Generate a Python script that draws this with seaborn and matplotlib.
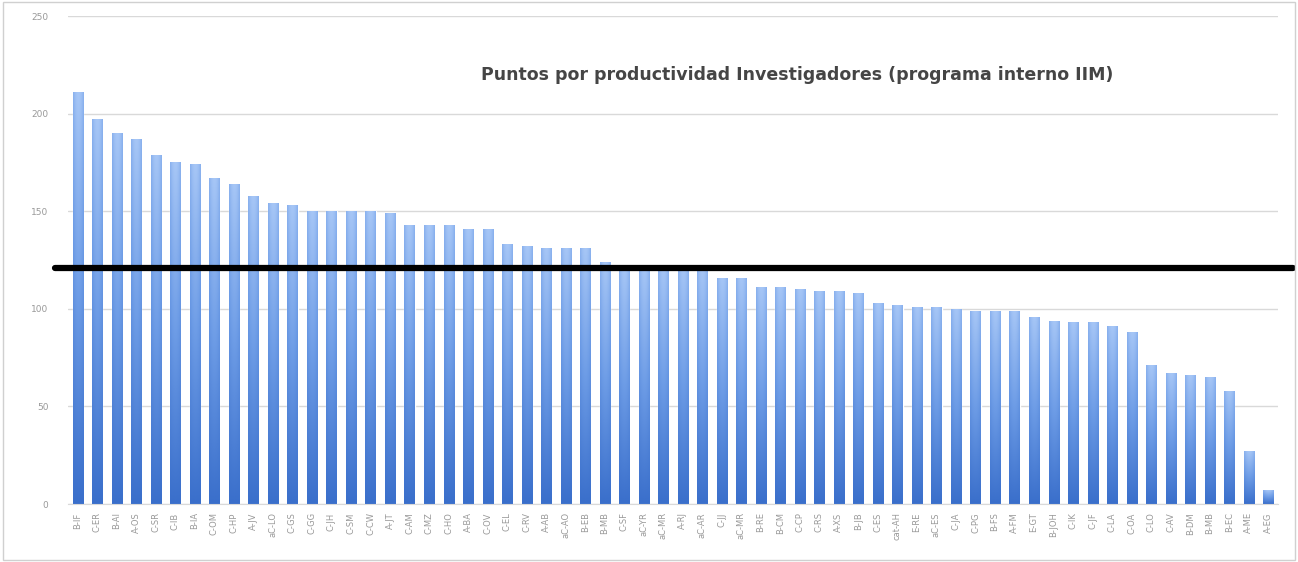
import numpy as np
import pandas as pd
import matplotlib
matplotlib.use('Agg')
import matplotlib.pyplot as plt
from matplotlib.colors import LinearSegmentedColormap
import seaborn as sns

# Data
labels = ['B-IF', 'C-ER', 'B-AI', 'A-OS', 'C-SR', 'C-IB', 'B-IA', 'C-OM', 'C-HP', 'A-JV',
          'aC-LO', 'C-GS', 'C-GG', 'C-JH', 'C-SM', 'C-CW', 'A-JT', 'C-AM', 'C-MZ', 'C-HO',
          'A-BA', 'C-OV', 'C-EL', 'C-RV', 'A-AB', 'aC-AO', 'B-EB', 'B-MB', 'C-SF', 'aC-YR',
          'aC-MR', 'A-RJ', 'aC-AR', 'C-JJ', 'aC-MR', 'B-RE', 'B-CM', 'C-CP', 'C-RS', 'A-XS',
          'B-JB', 'C-ES', 'cat-AH', 'E-RE', 'aC-ES', 'C-JA', 'C-PG', 'B-FS', 'A-FM', 'E-GT',
          'B-JOH', 'C-IK', 'C-JF', 'C-LA', 'C-OA', 'C-LO', 'C-AV', 'B-DM', 'B-MB', 'B-EC',
          'A-ME', 'A-EG']
points = [211, 197, 190, 187, 179, 175, 174, 167, 164, 158,
          154, 153, 150, 150, 150, 150, 149, 143, 143, 143,
          141, 141, 133, 132, 131, 131, 131, 124, 121, 121,
          121, 121, 121, 116, 116, 111, 111, 110, 109, 109,
          108, 103, 102, 101, 101, 100, 99, 99, 99, 96,
          94, 93, 93, 91, 88, 71, 67, 66, 65, 58,
          27, 7]
threshold = 121
title = 'Puntos por productividad Investigadores (programa interno IIM)'

df = pd.DataFrame({'pos': np.arange(len(points)), 'points': points})

sns.set_style('white')

fig = plt.figure(figsize=(12.98, 5.62), dpi=100)
ax = fig.add_axes([0.0524, 0.1032, 0.9322, 0.8683])

sns.barplot(data=df, x='pos', y='points', color='#5b8fe0', width=0.52,
            saturation=1, ax=ax, zorder=2)

# vertical blue gradient on each bar, like the Excel fill
cmap = LinearSegmentedColormap.from_list('bar', ['#3a6fcb', '#6d9ce6', '#a6c6f6'])
grad = np.linspace(0, 1, 256).reshape(-1, 1)
shade = 1 - 0.25 * np.abs(np.linspace(-1, 1, 16)) ** 2
img = grad * shade.reshape(1, -1)
for p in ax.patches:
    x0, w, h = p.get_x(), p.get_width(), p.get_height()
    im = ax.imshow(img, cmap=cmap, vmin=0, vmax=1, origin='lower', aspect='auto',
                   extent=[x0, x0 + w, 0, h], zorder=2.5)
    im.set_clip_path(p)

ax.set_xlim(-0.5, len(points) - 0.5)
ax.set_ylim(0, 250)
ax.set_yticks([0, 50, 100, 150, 200, 250])
ax.yaxis.grid(True, color='#d9d9d9', linewidth=1)
ax.set_axisbelow(True)

ax.set_xticks(np.arange(len(labels)))
ax.set_xticklabels(labels, rotation=90, fontsize=6, color='#999999')
ax.tick_params(axis='y', labelsize=6.5, labelcolor='#999999', length=0, pad=14)
ax.tick_params(axis='x', length=0, pad=6)
ax.set_xlabel('')
ax.set_ylabel('')
for s in ['top', 'right', 'left']:
    ax.spines[s].set_visible(False)
ax.spines['bottom'].set_color('#d9d9d9')

# reference line across the chart
ax.axhline(threshold, xmin=-0.011, xmax=1.012, color='black', linewidth=4.5,
           clip_on=False, zorder=5, solid_capstyle='round')

ax.text(0.603, 0.879, title, transform=ax.transAxes, ha='center', va='center',
        fontsize=12.5, fontweight='bold', color='#454545')

fig.patches.append(plt.Rectangle((0.002, 0.004), 0.996, 0.992, transform=fig.transFigure,
                                 fill=False, edgecolor='#d0d0d0', linewidth=1))

plt.savefig('out.png', dpi=100)
